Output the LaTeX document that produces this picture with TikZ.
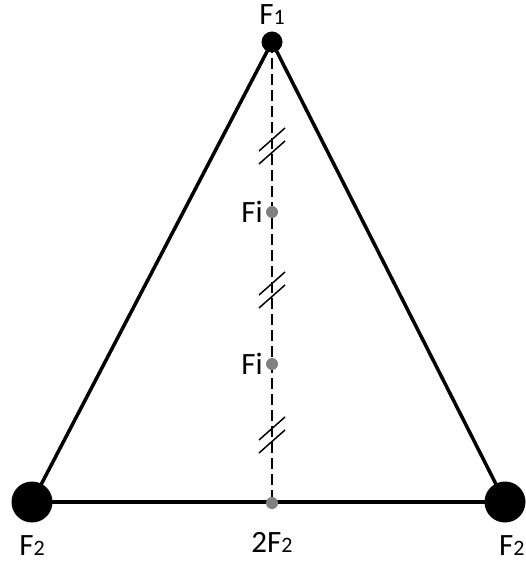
\documentclass[tikz,border=0pt]{standalone}
\usepackage{fontspec}
\setmainfont{Carlito}
\newcommand{\lab}[2]{{\fontsize{31}{31}\selectfont #1}{\fontsize{22}{22}\selectfont #2}}
\begin{document}
\begin{tikzpicture}[x=1pt,y=-1pt,
  bigdot/.style={circle,fill=black,inner sep=0pt,minimum size=41pt},
  topdot/.style={circle,fill=black,inner sep=0pt,minimum size=21pt},
  greydot/.style={circle,fill=gray,inner sep=0pt,minimum size=12pt},
  side/.style={line width=3.5pt},
  midline/.style={line width=1.1pt,dash pattern=on 11pt off 5pt},
  tick/.style={line width=1.5pt},
  txt/.style={inner sep=0pt}]
\useasboundingbox (0,0) rectangle (525,561);
% vertices
\coordinate (T) at (272,42);
\coordinate (L) at (32,502);
\coordinate (R) at (505,502);
\coordinate (M) at (272,503);
% lines
\draw[midline] (T) -- (M);
\draw[side] (L) -- (T) -- (R);
\draw[side] (L) -- (R);
% dots
\node[topdot] (t) at (T) {};
\node[bigdot] (l) at (L) {};
\node[bigdot] (r) at (R) {};
\node[greydot] (m) at (M) {};
\node[greydot] (f1) at (272,212) {};
\node[greydot] (f2) at (272,364) {};
% ticks
\foreach \cy in {146,290,435}{
  \draw[tick] (259,\cy+5) -- (285,\cy-18);
  \draw[tick] (259,\cy+18) -- (285,\cy-5);
}
% labels
\node[txt,anchor=base] (a) at (272,25) {\lab{F}{1}};
\node[txt,anchor=base] (b) at (32,555) {\lab{F}{2}};
\node[txt,anchor=base] (c) at (272,552) {\lab{2F}{2}};
\node[txt,anchor=base west] (d) at (499,555) {\lab{F}{2}};
\node[txt,anchor=east,font=\fontsize{31}{31}\selectfont] (e1) at (263,212) {Fi};
\node[txt,anchor=east,font=\fontsize{31}{31}\selectfont] (e2) at (263,364) {Fi};
\end{tikzpicture}
\end{document}
